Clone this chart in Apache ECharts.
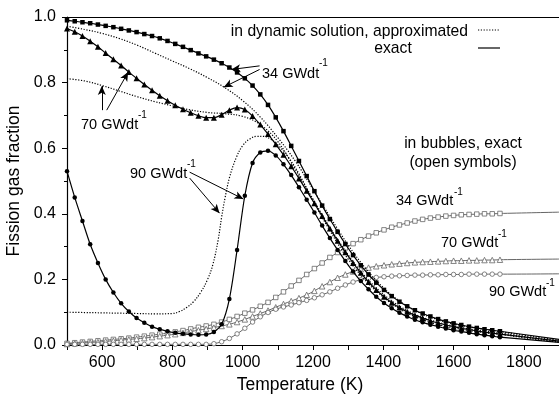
<!DOCTYPE html>
<html>
<head>
<meta charset="utf-8">
<script src="https://cdn.jsdelivr.net/npm/echarts@6/dist/echarts.min.js"></script>
<style>
  html, body { margin: 0; padding: 0; background: #fff; }
  #chart { width: 559px; height: 402px; }
</style>
</head>
<body>
<div id="chart"></div>
<script>
// temperatures (K) of the plotted points
const temps = [500, 522, 544, 566, 588, 610, 632, 654, 676, 698, 720, 742, 764, 786, 808, 830, 852, 874, 896, 918,
  940, 962, 984, 1006, 1028, 1050, 1072, 1094, 1116, 1138, 1160, 1182, 1204, 1226, 1248, 1270, 1292, 1314, 1336, 1358,
  1380, 1402, 1424, 1446, 1468, 1490, 1512, 1534, 1556, 1578, 1600, 1622, 1644, 1666, 1688, 1710, 1732];
const tailT = 1900;

// in dynamic solution, exact (filled symbols)
const exact34 = [0.990, 0.987, 0.984, 0.981, 0.977, 0.973, 0.969, 0.964, 0.959, 0.954, 0.948, 0.942, 0.935, 0.927, 0.918,
  0.909, 0.899, 0.889, 0.880, 0.870, 0.859, 0.846, 0.831, 0.813, 0.791, 0.764, 0.732, 0.694, 0.652, 0.607,
  0.561, 0.515, 0.469, 0.425, 0.384, 0.345, 0.308, 0.274, 0.243, 0.215, 0.190, 0.168, 0.149, 0.132, 0.118,
  0.106, 0.096, 0.087, 0.079, 0.072, 0.066, 0.061, 0.056, 0.052, 0.048, 0.045, 0.042];
const exact70 = [0.965, 0.955, 0.942, 0.926, 0.909, 0.890, 0.871, 0.852, 0.832, 0.813, 0.794, 0.777, 0.760, 0.745, 0.731,
  0.719, 0.708, 0.699, 0.693, 0.693, 0.702, 0.716, 0.724, 0.718, 0.698, 0.672, 0.643, 0.612, 0.580, 0.545,
  0.508, 0.470, 0.432, 0.393, 0.355, 0.318, 0.283, 0.250, 0.220, 0.192, 0.168, 0.147, 0.129, 0.114, 0.101,
  0.091, 0.082, 0.074, 0.067, 0.061, 0.056, 0.051, 0.047, 0.043, 0.039, 0.036, 0.033];
const exact90 = [0.530, 0.450, 0.378, 0.307, 0.250, 0.200, 0.160, 0.127, 0.102, 0.082, 0.068, 0.056, 0.048, 0.042, 0.037,
  0.034, 0.032, 0.031, 0.032, 0.040, 0.063, 0.140, 0.290, 0.455, 0.555, 0.587, 0.592, 0.578, 0.551, 0.518,
  0.481, 0.443, 0.404, 0.364, 0.326, 0.290, 0.256, 0.224, 0.195, 0.170, 0.147, 0.128, 0.112, 0.098, 0.087,
  0.077, 0.069, 0.062, 0.056, 0.050, 0.045, 0.041, 0.037, 0.033, 0.030, 0.027, 0.024];
const exactTail = [0.017, 0.012, 0.008];

// in bubbles, exact (open symbols)
const bubble34 = [0.005, 0.007, 0.009, 0.011, 0.013, 0.015, 0.017, 0.019, 0.021, 0.024, 0.027, 0.030, 0.033, 0.036, 0.040,
  0.044, 0.049, 0.054, 0.058, 0.063, 0.070, 0.078, 0.087, 0.097, 0.107, 0.118, 0.130, 0.145, 0.162, 0.180,
  0.197, 0.215, 0.233, 0.250, 0.267, 0.282, 0.296, 0.309, 0.321, 0.332, 0.342, 0.351, 0.359, 0.366, 0.372,
  0.378, 0.383, 0.387, 0.390, 0.393, 0.395, 0.397, 0.398, 0.399, 0.400, 0.400, 0.401];
const bubble70 = [0.003, 0.005, 0.006, 0.008, 0.009, 0.011, 0.013, 0.015, 0.017, 0.019, 0.021, 0.024, 0.027, 0.030, 0.033,
  0.037, 0.041, 0.045, 0.049, 0.053, 0.058, 0.063, 0.070, 0.078, 0.087, 0.096, 0.105, 0.115, 0.125, 0.134,
  0.143, 0.153, 0.165, 0.179, 0.192, 0.205, 0.215, 0.224, 0.231, 0.236, 0.240, 0.243, 0.246, 0.248, 0.250,
  0.252, 0.253, 0.254, 0.255, 0.256, 0.257, 0.257, 0.258, 0.258, 0.259, 0.259, 0.260];
const bubble90 = [0.002, 0.002, 0.002, 0.002, 0.002, 0.002, 0.002, 0.002, 0.002, 0.002, 0.002, 0.002, 0.002, 0.002, 0.002,
  0.002, 0.002, 0.002, 0.002, 0.004, 0.010, 0.020, 0.034, 0.051, 0.070, 0.086, 0.099, 0.109, 0.116, 0.122,
  0.129, 0.136, 0.144, 0.153, 0.162, 0.173, 0.183, 0.192, 0.199, 0.203, 0.206, 0.208, 0.210, 0.211, 0.212,
  0.213, 0.213, 0.214, 0.214, 0.215, 0.215, 0.215, 0.216, 0.216, 0.216, 0.216, 0.216];
const bubbleTail = [0.405, 0.262, 0.217];

// in dynamic solution, approximated (dotted, no symbols)
const approxT = [500, 550, 600, 650, 700, 750, 800, 850, 900, 950, 1000, 1050, 1100, 1150, 1200, 1250, 1300, 1350,
  1400, 1450, 1500, 1550, 1600, 1650, 1700, 1750, 1800, 1850, 1900];
const approx34 = [0.972, 0.962, 0.950, 0.934, 0.914, 0.890, 0.866, 0.842, 0.815, 0.784, 0.745, 0.695, 0.632, 0.560, 0.475,
  0.388, 0.305, 0.233, 0.175, 0.131, 0.100, 0.079, 0.064, 0.054, 0.046, 0.038, 0.030, 0.022, 0.015];
const approx70 = [0.812, 0.805, 0.791, 0.774, 0.757, 0.742, 0.729, 0.717, 0.709, 0.705, 0.697, 0.672, 0.620, 0.535, 0.445,
  0.355, 0.275, 0.207, 0.155, 0.116, 0.089, 0.071, 0.058, 0.048, 0.041, 0.034, 0.026, 0.018, 0.012];
const approx90T = [500, 550, 600, 650, 700, 750, 800, 820, 840, 860, 880, 900, 915, 930, 940, 950, 963, 982, 1000, 1020,
  1040, 1060, 1080, 1100, 1130, 1160, 1200, 1250, 1300, 1350, 1400, 1450, 1500, 1550, 1600, 1650, 1700, 1750, 1800, 1850, 1900];
const approx90 = [0.100, 0.099, 0.098, 0.097, 0.096, 0.095, 0.096, 0.102, 0.114, 0.132, 0.160, 0.200, 0.245, 0.320, 0.390,
  0.450, 0.513, 0.572, 0.608, 0.628, 0.636, 0.636, 0.627, 0.610, 0.572, 0.522, 0.440, 0.345, 0.262, 0.196, 0.146,
  0.108, 0.082, 0.064, 0.052, 0.043, 0.036, 0.030, 0.022, 0.015, 0.009];

// arrows from the labels to the curves, [T, fraction] start and tip
const arrows = [
  [[1048, 0.851], [968, 0.840]],
  [[1048, 0.840], [946, 0.786]],
  [[599, 0.716], [599, 0.790]],
  [[613, 0.716], [674, 0.832]],
  [[849, 0.527], [1002, 0.445]],
  [[849, 0.509], [934, 0.402]]
];

const yTicks = [0, 0.2, 0.4, 0.6, 0.8, 1.0];
const xLabels = [600, 800, 1000, 1200, 1400, 1600, 1800];

const FONT = '"Liberation Sans", Arial, sans-serif';

function pairs(xs, ys, tail) {
  const d = xs.map((x, i) => [x, ys[i]]);
  if (tail !== undefined) d.push({ value: [tailT, tail], symbol: 'none' });
  return d;
}

function exactSeries(name, ys, tail, symbol, size) {
  return {
    name, type: 'line', data: pairs(temps, ys, tail),
    symbol, symbolSize: size, smooth: 0.3,
    lineStyle: { color: '#000', width: 1.2 },
    itemStyle: { color: '#000' },
    z: 5
  };
}

function bubbleSeries(name, ys, tail, symbol) {
  return {
    name, type: 'line', data: pairs(temps, ys, tail),
    symbol, symbolSize: symbol === 'triangle' ? 5.5 : 4.5, smooth: 0.3,
    lineStyle: { color: '#555', width: 0.9 },
    itemStyle: { color: '#fff', borderColor: '#666', borderWidth: 0.8 },
    z: 3
  };
}

function approxSeries(name, xs, ys) {
  return {
    name, type: 'line', data: pairs(xs, ys), symbol: 'none', smooth: 0.4,
    lineStyle: { color: '#000', width: 1.2, type: [1.2, 1.6] },
    z: 4
  };
}

const chart = echarts.init(document.getElementById('chart'));

const s34 = exactSeries('exact 34', exact34, exactTail[0], 'rect', 4.5);
s34.markLine = {
  silent: true, symbol: ['none', 'arrow'], symbolSize: [6, 9],
  lineStyle: { color: '#000', width: 1, type: 'solid' },
  label: { show: false },
  data: arrows.map(a => [{ coord: a[0] }, { coord: a[1] }])
};

const texts = [
  { x: 468, y: 32, t: 'in dynamic solution, approximated', align: 'right', size: 15.7 },
  { x: 393, y: 49, t: 'exact', align: 'center', size: 15.7 },
  { x: 262, y: 74, t: '34 GWdt', size: 14.5 },
  { x: 319, y: 63, t: '-1', size: 10 },
  { x: 81, y: 125, t: '70 GWdt', size: 14.5 },
  { x: 138, y: 115, t: '-1', size: 10 },
  { x: 130, y: 174, t: '90 GWdt', size: 14.5 },
  { x: 187, y: 164, t: '-1', size: 10 },
  { x: 463, y: 144, t: 'in bubbles, exact', align: 'center', size: 15.7 },
  { x: 463, y: 163, t: '(open symbols)', align: 'center', size: 15.7 },
  { x: 396, y: 201, t: '34 GWdt', size: 14.5 },
  { x: 454, y: 192, t: '-1', size: 10 },
  { x: 441, y: 243, t: '70 GWdt', size: 14.5 },
  { x: 498, y: 234, t: '-1', size: 10 },
  { x: 489, y: 292, t: '90 GWdt', size: 14.5 },
  { x: 546, y: 283, t: '-1', size: 10 }
];

const option = {
  animation: false,
  backgroundColor: '#fff',
  textStyle: { fontFamily: FONT },
  grid: { left: 67, right: 0, top: 17, bottom: 57, outerBoundsMode: 'none' },
  xAxis: [{
    type: 'value', min: 500, max: 1900, interval: 100,
    name: 'Temperature (K)', nameLocation: 'middle', nameGap: 30,
    nameTextStyle: { fontSize: 17.5, color: '#000', fontFamily: FONT, padding: [0, 26, 0, 0] },
    axisLine: { show: true, lineStyle: { color: '#000', width: 1.2 } },
    axisTick: { show: true, length: 5, lineStyle: { color: '#000' } },
    axisLabel: {
      fontSize: 16, color: '#000', fontFamily: FONT, margin: 10,
      formatter: v => (xLabels.indexOf(v) >= 0 ? String(v) : '')
    },
    splitLine: { show: false }
  }, {
    type: 'value', min: 500, max: 1900, position: 'top',
    axisLine: { show: true, onZero: false, lineStyle: { color: '#000', width: 1.2 } },
    axisTick: { show: false }, axisLabel: { show: false }, splitLine: { show: false }
  }],
  yAxis: {
    type: 'value', min: 0, max: 1, interval: 0.2,
    name: 'Fission gas fraction', nameLocation: 'middle', nameGap: 43,
    nameTextStyle: { fontSize: 17.5, color: '#000', fontFamily: FONT },
    axisLine: { show: true, lineStyle: { color: '#000', width: 1.2 } },
    axisTick: { show: true, length: 5, lineStyle: { color: '#000' } },
    minorTick: { show: true, splitNumber: 2, length: 3, lineStyle: { color: '#000' } },
    axisLabel: {
      fontSize: 16, color: '#000', fontFamily: FONT, margin: 11,
      formatter: v => (yTicks.some(t => Math.abs(t - v) < 1e-6) ? v.toFixed(1) : '')
    },
    splitLine: { show: false }
  },
  graphic: [
    { type: 'line', shape: { x1: 478, y1: 30, x2: 499, y2: 30 },
      style: { stroke: '#000', lineWidth: 1.2, lineDash: [1.2, 1.6] } },
    { type: 'line', shape: { x1: 478, y1: 48, x2: 500, y2: 48 },
      style: { stroke: '#000', lineWidth: 1.2 } }
  ].concat(texts.map(o => ({
    type: 'text', x: o.x, y: o.y,
    style: {
      text: o.t, fill: '#000', font: o.size + 'px ' + FONT,
      textAlign: o.align || 'left', textVerticalAlign: 'middle'
    }
  }))),
  series: [
    bubbleSeries('bubbles 34', bubble34, bubbleTail[0], 'rect'),
    bubbleSeries('bubbles 70', bubble70, bubbleTail[1], 'triangle'),
    bubbleSeries('bubbles 90', bubble90, bubbleTail[2], 'circle'),
    approxSeries('approx 34', approxT, approx34),
    approxSeries('approx 70', approxT, approx70),
    approxSeries('approx 90', approx90T, approx90),
    s34,
    exactSeries('exact 70', exact70, exactTail[1], 'triangle', 6),
    exactSeries('exact 90', exact90, exactTail[2], 'circle', 4.5)
  ]
};

chart.setOption(option);
</script>
</body>
</html>
